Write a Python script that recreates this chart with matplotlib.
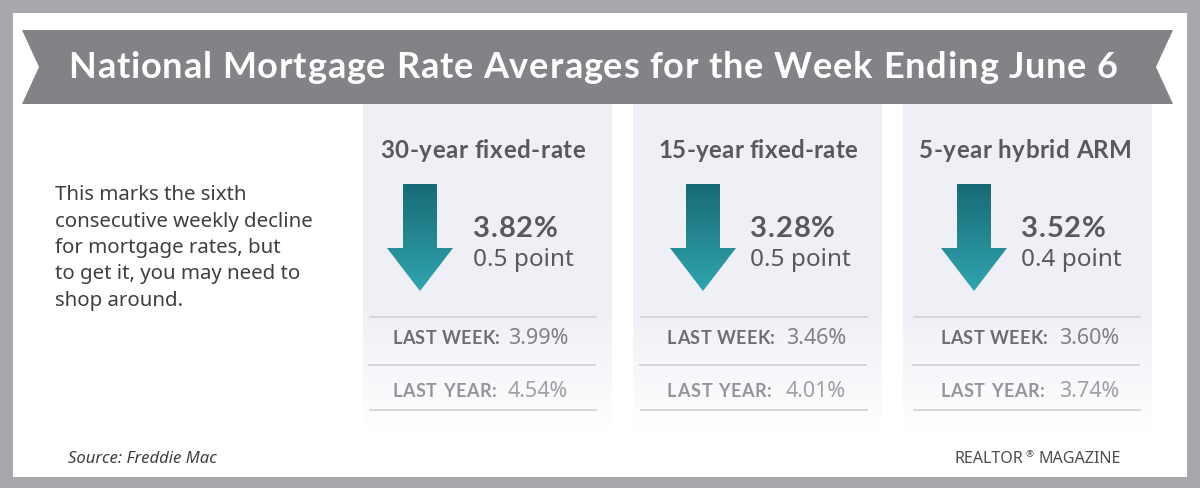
import numpy as np
import matplotlib
matplotlib.use('Agg')
import matplotlib.pyplot as plt
from matplotlib.colors import LinearSegmentedColormap
from matplotlib.font_manager import FontProperties
from matplotlib.patches import Polygon, Rectangle

plt.rcParams['font.family'] = ['Noto Sans', 'DejaVu Sans']

title = 'National Mortgage Rate Averages for the Week Ending June 6'
note = ['This marks the sixth', 'consecutive weekly decline', 'for mortgage rates, but',
        'to get it, you may need to', 'shop around.']
products = ['30-year fixed-rate', '15-year fixed-rate', '5-year hybrid ARM']
rates = ['3.82%', '3.28%', '3.52%']
changes = ['0.5 point', '0.5 point', '0.4 point']
last_week = ['3.99%', '3.46%', '3.60%']
last_year = ['4.54%', '4.01%', '3.74%']

GREY = '#a7a8ab'
BANNER = '#828386'
DARK = '#58595b'
PANEL = '#efeff6'

panel_x = [363, 633, 903]
head_x = [380, 658, 919]
head_w = [205, 199, 213]
arrow_x = [420, 703, 974]
rate_x = [473, 750, 1021]
rule_x = [370, 641, 914]
label_x = [392, 667, 940]
value_x = [508, 786, 1059]

fig = plt.figure(figsize=(12, 4.88), dpi=100, facecolor=GREY)
ax = fig.add_axes([0, 0, 1, 1])
ax.axis('off')
renderer = fig.canvas.get_renderer()


def spaced(x, y, s, width, **kw):
    # matplotlib has no letter spacing, so place each bold character to fill width
    prop = FontProperties(family='Lato', size=kw['fontsize'], weight='bold')
    adv = [renderer.get_text_width_height_descent(s[:n], prop, False)[0] if n else 0
           for n in range(len(s) + 1)]
    extra = (width - adv[-1]) / (len(s) - 1)
    for n, ch in enumerate(s):
        if ch != ' ':
            ax.text(x + adv[n] + n * extra, y, ch, va='baseline', ha='left', zorder=3,
                    fontproperties=prop, color=kw['color'])


ax.add_patch(Rectangle((13, 13), 1174, 464, fc='white', ec='none'))

# banner with notched ends
ax.add_patch(Polygon([(22, 30), (1173, 30), (1156, 67), (1173, 104), (22, 104), (39, 67)],
                     fc=BANNER, ec='none'))
spaced(68, 78, title, 1050, color='white', fontsize=26)

for i, line in enumerate(note):
    ax.text(55, 200 + i * 26.5, line, color='#3f3f41', fontsize=14.7, va='baseline')

panel_cmap = LinearSegmentedColormap.from_list('panel', [(0, PANEL), (0.62, PANEL), (1, 'white')])
arrow_cmap = LinearSegmentedColormap.from_list('arrow', ['#176a75', '#30a5ae'])
grad = np.linspace(0, 1, 256).reshape(-1, 1)

for i in range(3):
    px = panel_x[i]
    ax.imshow(grad, cmap=panel_cmap, extent=(px, px + 249, 432, 104), aspect='auto', zorder=1)

    spaced(head_x[i], 158, products[i], head_w[i], color=DARK, fontsize=17.4)

    # arrow, gradient clipped to its outline
    cx = arrow_x[i]
    arrow = Polygon([(cx - 17, 184), (cx + 17, 184), (cx + 17, 248), (cx + 33, 248),
                     (cx, 291), (cx - 33, 248), (cx - 17, 248)], fc='none', ec='none',
                    transform=ax.transData)
    ax.add_patch(arrow)
    im = ax.imshow(grad, cmap=arrow_cmap, extent=(cx - 33, cx + 33, 291, 184), aspect='auto', zorder=2)
    im.set_clip_path(arrow)

    spaced(rate_x[i], 237, rates[i], 85, color=DARK, fontsize=21)
    ax.text(rate_x[i], 266, changes[i], color=DARK, fontsize=17.5, va='baseline', zorder=3)

    for y, shift in [(317, 0), (365, -1), (410, 0)]:
        ax.plot([rule_x[i] + shift, rule_x[i] + shift + 226], [y, y], color='#d3d3d6', lw=1.3, zorder=3)

    spaced(label_x[i], 344, 'LAST WEEK:', 108, color='#6d6e71', fontsize=13)
    ax.text(value_x[i], 344, last_week[i], color='#808285', fontsize=15.5, va='baseline', zorder=3)
    spaced(label_x[i], 397, 'LAST YEAR:', 105, color='#939598', fontsize=13)
    ax.text(value_x[i], 397, last_year[i], color='#a0a1a4', fontsize=15.5, va='baseline', zorder=3)

ax.text(68, 463, 'Source: Freddie Mac', color='#3f3f41', fontsize=12, style='italic', va='baseline')
ax.text(955, 463, 'REALTOR', color='#4d4d4f', fontsize=11.6, va='baseline')
ax.text(1025, 457, '®', color='#4d4d4f', fontsize=7, va='baseline')
ax.text(1038, 463, 'MAGAZINE', color='#4d4d4f', fontsize=11.6, va='baseline')

ax.set_xlim(0, 1200)
ax.set_ylim(488, 0)
fig.savefig('out.png', dpi=100, facecolor=GREY)
